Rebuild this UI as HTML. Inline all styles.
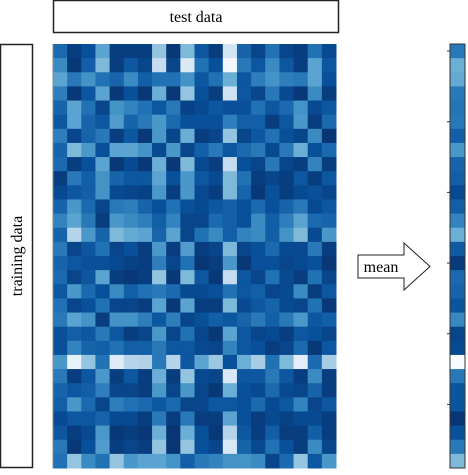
<!DOCTYPE html>
<html><head><meta charset="utf-8"><style>
body{margin:0;background:#fff;width:468px;height:470px;overflow:hidden;font-family:"Liberation Serif",serif}
svg text{font-family:"Liberation Serif","DejaVu Serif",serif}
</style></head><body>
<svg id="s" width="468" height="470" xmlns="http://www.w3.org/2000/svg" font-family="Liberation Serif, serif">
<rect x="53.5" y="0.5" width="285" height="32" fill="#fff" stroke="#222" stroke-width="1.5"/>
<text x="196" y="22" font-size="16" font-family="Liberation Serif, serif" text-anchor="middle" fill="#000">test data</text>
<rect x="0.5" y="44.5" width="32" height="423" fill="#fff" stroke="#222" stroke-width="1.5"/>
<text x="0" y="0" font-size="16" font-family="Liberation Serif, serif" text-anchor="middle" transform="translate(22,256) rotate(-90)" fill="#000">training data</text>
<g id="heat"></g>
<g id="meanbar"></g>
<path d="M358,255 L404,255 L404,243 L430,266.5 L404,290 L404,278 L358,278 Z" fill="#fff" stroke="#222" stroke-width="1"/>
<text x="381" y="272" font-size="16" font-family="Liberation Serif, serif" text-anchor="middle" fill="#000">mean</text>
</svg>
<script>
const heatValues = [
[0.78,0.95,0.88,0.55,0.95,0.95,0.95,0.4,0.97,0.45,0.85,0.95,0.18,0.8,0.92,0.75,0.92,0.95,0.75,0.9],
[0.65,0.97,0.82,0.45,0.95,0.85,0.92,0.25,0.92,0.15,0.75,0.88,0.02,0.72,0.85,0.65,0.85,0.95,0.55,0.85],
[0.55,0.72,0.62,0.75,0.8,0.65,0.82,0.75,0.75,0.62,0.85,0.75,0.5,0.85,0.7,0.62,0.7,0.72,0.55,0.88],
[0.7,0.97,0.85,0.55,0.97,0.88,0.97,0.5,0.97,0.4,0.88,0.95,0.2,0.85,0.92,0.72,0.9,0.97,0.65,0.95],
[0.8,0.55,0.75,0.92,0.62,0.68,0.75,0.85,0.72,0.93,0.9,0.85,0.88,0.88,0.75,0.85,0.78,0.62,0.9,0.85],
[0.85,0.55,0.8,0.85,0.58,0.8,0.72,0.6,0.78,0.88,0.88,0.88,0.7,0.82,0.82,0.95,0.85,0.6,0.95,0.78],
[0.7,0.92,0.8,0.72,0.95,0.85,0.97,0.6,0.92,0.5,0.95,0.92,0.4,0.92,0.85,0.75,0.88,0.92,0.65,0.98],
[0.8,0.45,0.6,0.88,0.55,0.55,0.62,0.9,0.6,0.92,0.82,0.72,0.85,0.78,0.72,0.9,0.72,0.5,0.88,0.78],
[0.78,0.95,0.88,0.55,0.97,0.9,0.97,0.5,0.97,0.45,0.9,0.95,0.25,0.88,0.92,0.72,0.92,0.95,0.68,0.95],
[0.95,0.72,0.82,0.62,0.8,0.85,0.85,0.55,0.88,0.6,0.85,0.9,0.45,0.75,0.95,0.92,0.95,0.85,0.95,0.85],
[0.9,0.85,0.82,0.62,0.9,0.92,0.93,0.6,0.95,0.6,0.9,0.95,0.45,0.8,0.97,0.88,0.95,0.9,0.88,0.92],
[0.8,0.6,0.78,0.92,0.72,0.7,0.8,0.88,0.75,0.88,0.9,0.85,0.82,0.88,0.78,0.88,0.8,0.72,0.9,0.85],
[0.68,0.55,0.72,0.95,0.6,0.65,0.7,0.82,0.68,0.92,0.92,0.78,0.82,0.88,0.65,0.82,0.7,0.55,0.78,0.8],
[0.8,0.3,0.6,0.8,0.45,0.52,0.55,0.8,0.55,0.92,0.75,0.65,0.82,0.68,0.65,0.82,0.62,0.45,0.9,0.6],
[0.72,0.92,0.85,0.75,0.92,0.88,0.95,0.6,0.95,0.58,0.95,0.92,0.45,0.92,0.88,0.78,0.9,0.9,0.72,0.95],
[0.8,0.85,0.88,0.88,0.9,0.93,0.95,0.7,0.92,0.75,0.98,0.95,0.6,0.97,0.88,0.88,0.92,0.9,0.88,0.97],
[0.78,0.92,0.85,0.55,0.95,0.97,0.95,0.4,0.97,0.45,0.85,0.97,0.25,0.85,0.92,0.75,0.9,0.95,0.75,0.92],
[0.85,0.6,0.78,0.88,0.65,0.82,0.75,0.72,0.78,0.9,0.9,0.88,0.75,0.85,0.82,0.92,0.9,0.65,0.95,0.85],
[0.75,0.92,0.88,0.75,0.92,0.92,0.95,0.55,0.97,0.55,0.95,0.95,0.45,0.9,0.85,0.8,0.9,0.92,0.75,0.97],
[0.72,0.55,0.62,0.95,0.62,0.62,0.7,0.85,0.7,0.92,0.88,0.82,0.85,0.8,0.72,0.82,0.72,0.6,0.85,0.82],
[0.88,0.82,0.85,0.72,0.85,0.95,0.92,0.6,0.92,0.75,0.92,0.97,0.55,0.85,0.92,0.9,0.95,0.85,0.88,0.92],
[0.88,0.68,0.8,0.82,0.75,0.82,0.82,0.72,0.85,0.85,0.9,0.92,0.68,0.85,0.88,0.95,0.92,0.78,0.97,0.85],
[0.6,0.08,0.4,0.75,0.12,0.3,0.32,0.72,0.3,0.85,0.55,0.38,0.88,0.5,0.35,0.75,0.45,0.1,0.78,0.35],
[0.72,0.95,0.85,0.6,0.95,0.85,0.95,0.5,0.95,0.4,0.9,0.92,0.15,0.85,0.85,0.72,0.85,0.95,0.65,0.95],
[0.8,0.85,0.82,0.7,0.92,0.92,0.95,0.6,0.92,0.6,0.92,0.97,0.5,0.88,0.9,0.78,0.9,0.92,0.8,0.95],
[0.82,0.6,0.78,0.92,0.7,0.75,0.78,0.85,0.78,0.92,0.92,0.85,0.85,0.88,0.78,0.9,0.85,0.68,0.92,0.85],
[0.9,0.85,0.85,0.8,0.9,0.9,0.95,0.72,0.95,0.72,0.95,0.95,0.55,0.88,0.95,0.9,0.93,0.9,0.9,0.95],
[0.85,0.95,0.9,0.6,0.97,0.95,0.97,0.5,0.98,0.5,0.88,0.97,0.3,0.85,0.95,0.82,0.95,0.95,0.82,0.95],
[0.72,0.97,0.88,0.58,0.95,0.92,0.95,0.4,0.98,0.4,0.88,0.92,0.15,0.8,0.9,0.75,0.88,0.95,0.65,0.92],
[0.75,0.4,0.65,0.75,0.4,0.6,0.55,0.55,0.62,0.82,0.72,0.68,0.62,0.62,0.65,0.92,0.78,0.4,0.85,0.6]
];
const meanValues = [0.72,0.5,0.52,0.72,0.74,0.72,0.82,0.6,0.8,0.82,0.9,0.82,0.68,0.5,0.84,0.96,0.78,0.8,0.86,0.66,0.92,0.9,0.0,0.72,0.86,0.86,0.98,0.88,0.72,0.45];
const meanTicks = [0,5,10,15,20,25];

const NS="http://www.w3.org/2000/svg";
const stops=[[247,251,255],[222,235,247],[198,219,239],[158,202,225],[107,174,214],[66,146,198],[33,113,181],[8,81,156],[8,48,107]];
function color(v){v=Math.max(0,Math.min(1,v))*8;const i=Math.min(7,Math.floor(v)),t=v-i;const a=stops[i],b=stops[i+1];
return `rgb(${Math.round(a[0]+(b[0]-a[0])*t)},${Math.round(a[1]+(b[1]-a[1])*t)},${Math.round(a[2]+(b[2]-a[2])*t)})`;}
const hx0=53,hx1=336,hy0=44,hy1=468;
const nR=heatValues.length,nC=heatValues[0].length;
const cw=(hx1-hx0)/nC,ch=(hy1-hy0)/nR;
const xScale=c=>hx0+c*cw, yScale=r=>hy0+r*ch;
const heat=document.getElementById('heat');
heatValues.forEach((row,r)=>row.forEach((v,c)=>{
 const el=document.createElementNS(NS,'rect');
 el.setAttribute('x',xScale(c));el.setAttribute('y',yScale(r));
 el.setAttribute('width',cw+0.5);el.setAttribute('height',ch+0.5);
 el.setAttribute('fill',color(v));
 
 
 heat.appendChild(el);
}));
const hb=document.createElementNS(NS,'line');
hb.setAttribute('x1',hx0);hb.setAttribute('x2',hx0);hb.setAttribute('y1',hy0);hb.setAttribute('y2',hy1);
hb.setAttribute('stroke','#888');hb.setAttribute('stroke-width','1');


heat.appendChild(hb);
const mx0=450,mx1=465;
const mb=document.getElementById('meanbar');
meanValues.forEach((v,r)=>{
 const el=document.createElementNS(NS,'rect');
 el.setAttribute('x',mx0);el.setAttribute('y',yScale(r));
 el.setAttribute('width',mx1-mx0);el.setAttribute('height',ch+0.5);
 el.setAttribute('fill',color(v));
 
 
 mb.appendChild(el);
});
const fr=document.createElementNS(NS,'rect');
fr.setAttribute('x',mx0);fr.setAttribute('y',hy0);fr.setAttribute('width',mx1-mx0);fr.setAttribute('height',hy1-hy0);
fr.setAttribute('fill','none');fr.setAttribute('stroke','#333');fr.setAttribute('stroke-width','1');


mb.appendChild(fr);
meanTicks.forEach(t=>{
 const y=yScale(t)+ch/2;
 const l=document.createElementNS(NS,'line');
 l.setAttribute('x1',mx0-3);l.setAttribute('x2',mx0);l.setAttribute('y1',y);l.setAttribute('y2',y);
 l.setAttribute('stroke','#333');
 
 
 mb.appendChild(l);
});
</script>
</body></html>
